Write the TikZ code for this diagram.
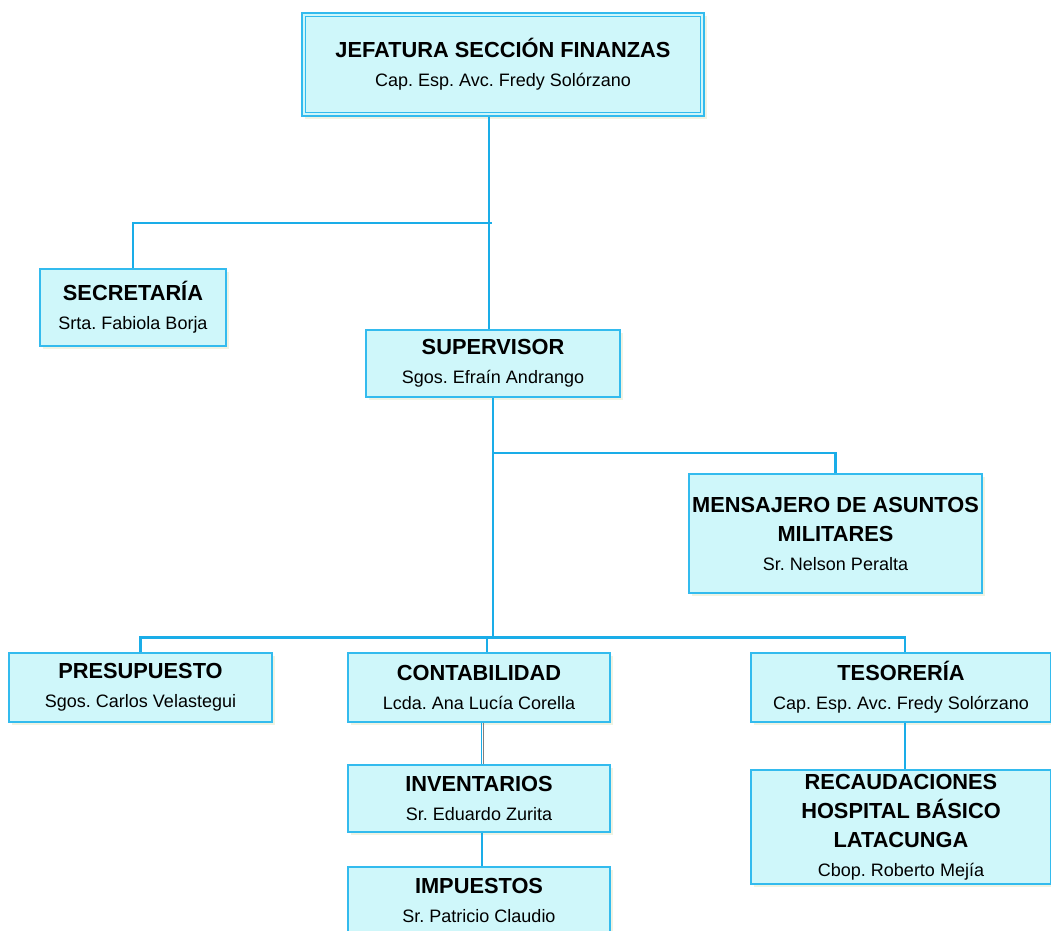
\documentclass[tikz,border=0pt]{standalone}
\usepackage{fontspec}
\setmainfont{Liberation Sans}
\usetikzlibrary{shadows}
\definecolor{boxfill}{RGB}{207,247,250}
\definecolor{boxline}{RGB}{51,187,238}
\definecolor{wire}{RGB}{26,173,232}
\definecolor{shade}{RGB}{240,243,226}
\frenchspacing
\newcommand\hd[1]{{\fontsize{21.8}{29}\selectfont\bfseries #1}}
\tikzset{
  unit/.style={draw=boxline, line width=1.7pt, fill=boxfill, inner sep=0pt,
    align=center, font=\fontsize{18}{29}\selectfont,
    drop shadow={shadow xshift=2.5pt, shadow yshift=-2.5pt, fill=shade, opacity=1}},
  wire/.style={draw=wire, line width=2.2pt},
}
\begin{document}
\begin{tikzpicture}[x=1pt,y=-1pt]
\useasboundingbox (0,0) rectangle (1051,930);
\clip (0,0) rectangle (1051,930);
\fill[white] (0,0) rectangle (1051,930);

% units
\node[unit, minimum width=402pt, minimum height=103pt] (jef) at (503,64.5)
  {\hd{JEFATURA SECCIÓN FINANZAS}\\Cap. Esp. Avc. Fredy Solórzano};
\draw[boxline, line width=1.2pt] ([shift={(4.5,4.5)}]jef.north west) rectangle ([shift={(-4.5,-4.5)}]jef.south east);
\node[unit, minimum width=186pt, minimum height=77pt] (sec) at (133,307.5)
  {\hd{SECRETARÍA}\\Srta. Fabiola Borja};
\node[unit, minimum width=254pt, minimum height=67pt] (sup) at (493,363.5)
  {\hd{SUPERVISOR}\\Sgos. Efraín Andrango};
\node[unit, minimum width=293pt, minimum height=119pt] (men) at (835.5,533.5)
  {\hd{MENSAJERO DE ASUNTOS}\\\hd{MILITARES}\\Sr. Nelson Peralta};
\node[unit, minimum width=263pt, minimum height=69pt] (pre) at (140.5,687.5)
  {\hd{PRESUPUESTO}\\Sgos. Carlos Velastegui};
\node[unit, minimum width=262pt, minimum height=69pt] (con) at (479,687.5)
  {\hd{CONTABILIDAD}\\Lcda. Ana Lucía Corella};
\node[unit, minimum width=300pt, minimum height=69pt] (tes) at (901,687.5)
  {\hd{TESORERÍA}\\Cap. Esp. Avc. Fredy Solórzano};
\node[unit, minimum width=262pt, minimum height=67pt] (inv) at (479,798.5)
  {\hd{INVENTARIOS}\\Sr. Eduardo Zurita};
\node[unit, minimum width=300pt, minimum height=114pt] (rec) at (901,827)
  {\hd{RECAUDACIONES}\\\hd{HOSPITAL BÁSICO}\\\hd{LATACUNGA}\\Cbop. Roberto Mejía};
\node[unit, minimum width=262pt, minimum height=66pt] (imp) at (479,900)
  {\hd{IMPUESTOS}\\Sr. Patricio Claudio};

% junction points
\coordinate (v1) at (489,223);
\coordinate (j1) at (492,223);
\coordinate (j2) at (493,453);
\coordinate (j3) at (493,637.5);
\coordinate (c1) at (487,637.5);
\coordinate (t1) at (905,637.5);
\coordinate (d1) at (481,0);
\coordinate (d2) at (483.5,0);
\coordinate (i1) at (482,0);

% connectors
\draw[wire] (jef.south -| v1) -- (sup.north -| v1);
\draw[wire] (sec.north) |- (j1);
\draw[wire] (sup.south -| j2) -- (j3);
\draw[wire] (j2) -| (men.north);
\draw[wire] (pre.north) |- (t1) -- (tes.north -| t1);
\draw[wire] (c1) -- (con.north -| c1);
\draw[wire] (tes.south -| t1) -- (rec.north -| t1);
\draw[draw=wire, line width=1pt] (con.south -| d1) -- (inv.north -| d1);
\draw[draw=gray, line width=0.8pt] (con.south -| d2) -- (inv.north -| d2);
\draw[wire] (inv.south -| i1) -- (imp.north -| i1);
\end{tikzpicture}
\end{document}
